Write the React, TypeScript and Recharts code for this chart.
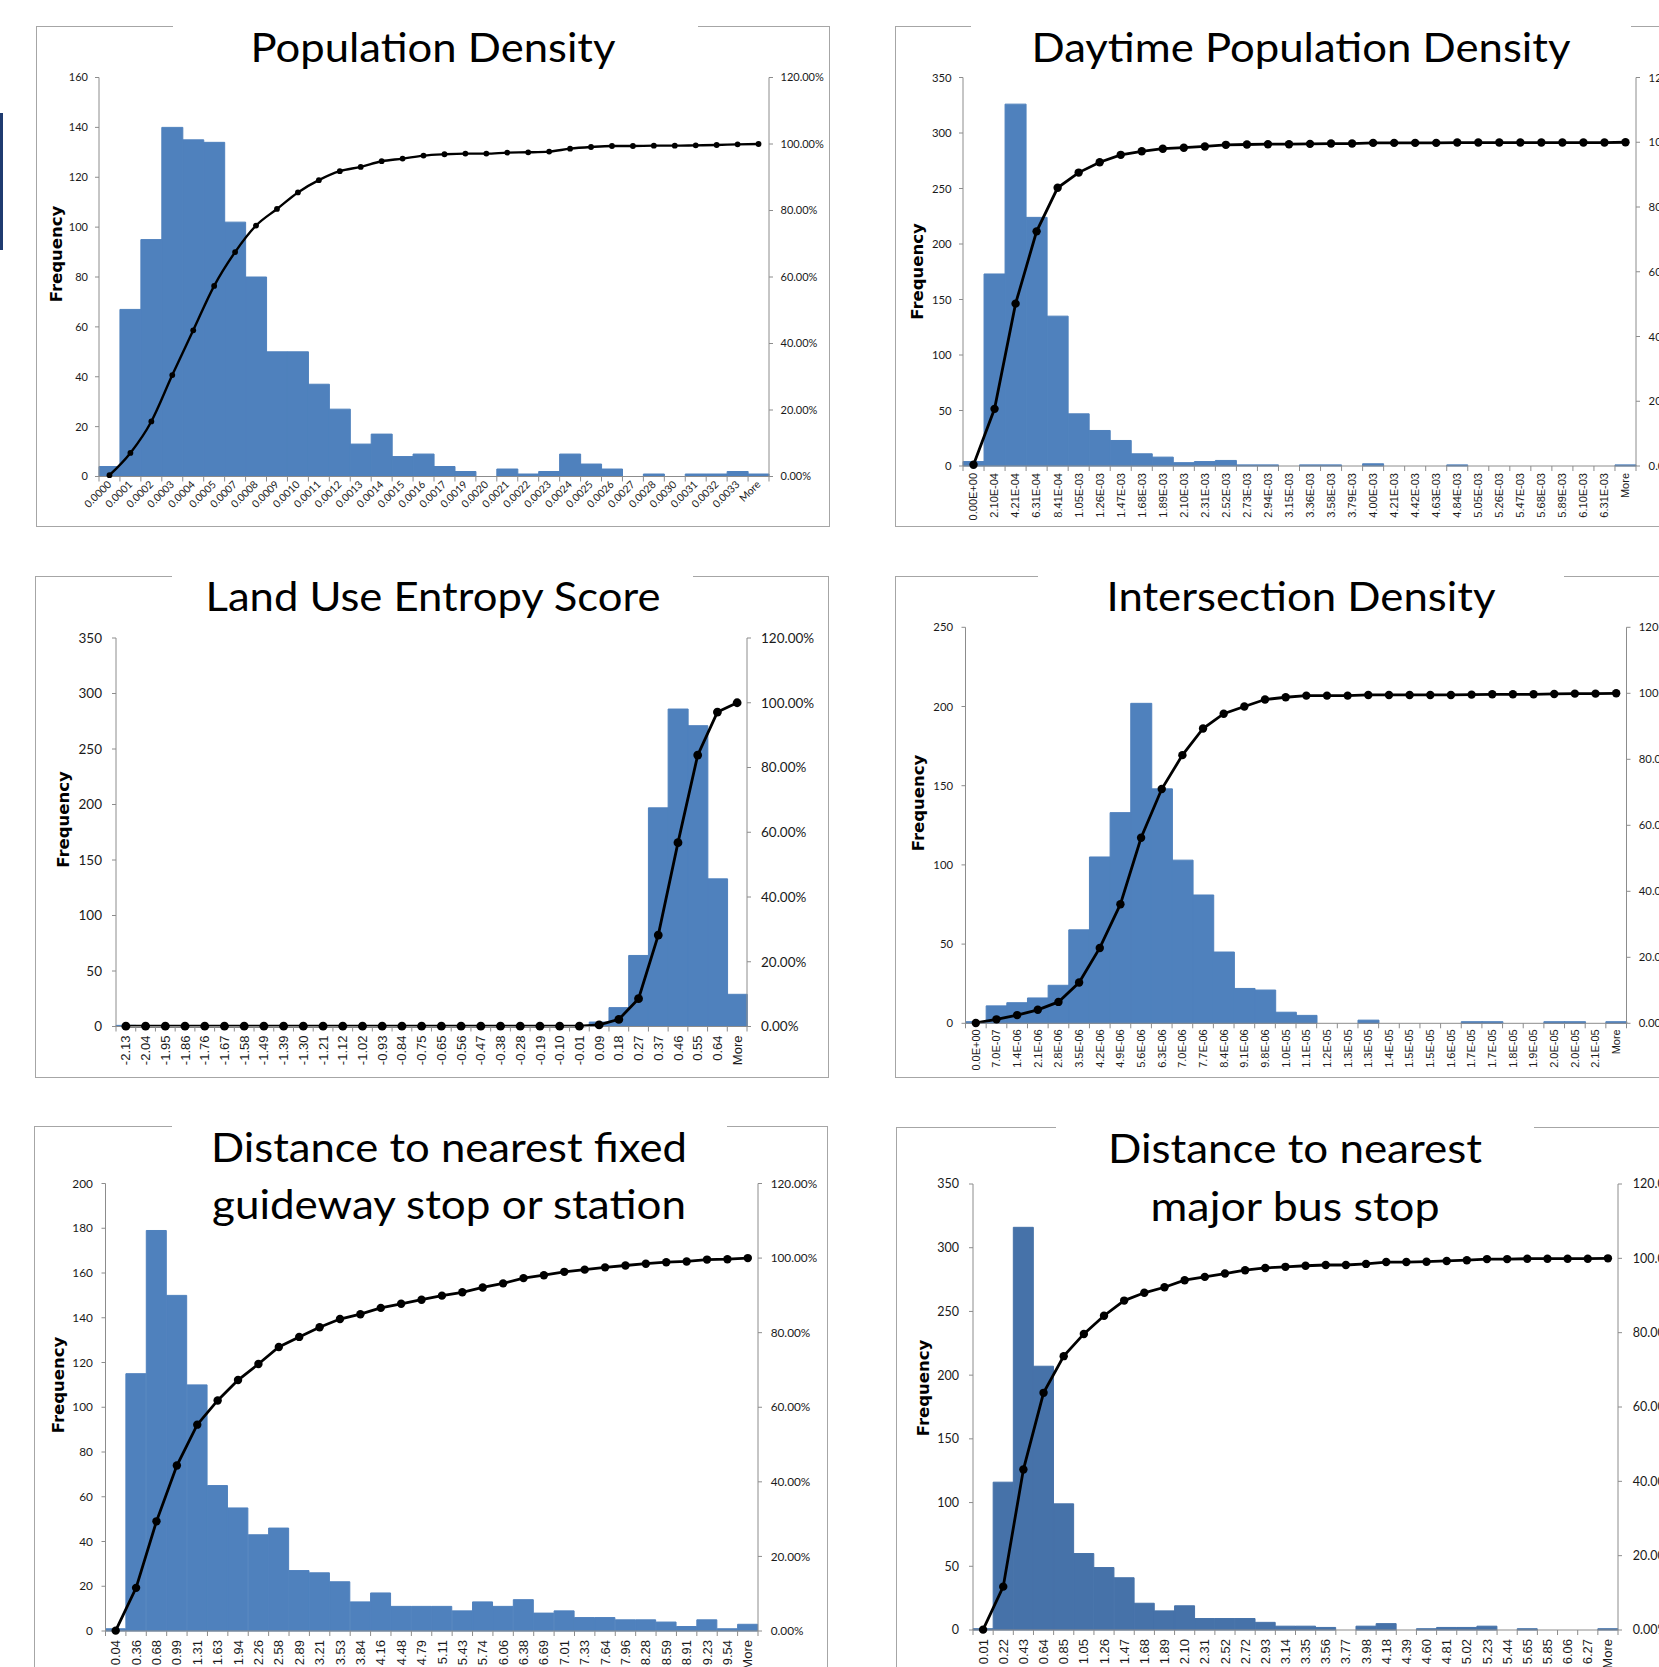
import { ComposedChart, Bar, Line, XAxis, YAxis } from 'recharts';

// ---- data ----
const popLabels = ['0.0000', '0.0001', '0.0002', '0.0003', '0.0004', '0.0005', '0.0007', '0.0008', '0.0009', '0.0010', '0.0011', '0.0012', '0.0013', '0.0014', '0.0015', '0.0016', '0.0017', '0.0019', '0.0020', '0.0021', '0.0022', '0.0023', '0.0024', '0.0025', '0.0026', '0.0027', '0.0028', '0.0030', '0.0031', '0.0032', '0.0033', 'More'];
const popCounts = [4, 67, 95, 140, 135, 134, 102, 80, 50, 50, 37, 27, 13, 17, 8, 9, 4, 2, 0, 3, 1, 2, 9, 5, 3, 0, 1, 0, 1, 1, 2, 1];
const popCumPct = [0.4, 7.08, 16.55, 30.51, 43.97, 57.33, 67.5, 75.47, 80.46, 85.44, 89.13, 91.82, 93.12, 94.82, 95.61, 96.51, 96.91, 97.11, 97.11, 97.41, 97.51, 97.71, 98.6, 99.1, 99.4, 99.4, 99.5, 99.5, 99.6, 99.7, 99.9, 100];
const popTicks = [0, 20, 40, 60, 80, 100, 120, 140, 160];

const dayLabels = ['0.00E+00', '2.10E-04', '4.21E-04', '6.31E-04', '8.41E-04', '1.05E-03', '1.26E-03', '1.47E-03', '1.68E-03', '1.89E-03', '2.10E-03', '2.31E-03', '2.52E-03', '2.73E-03', '2.94E-03', '3.15E-03', '3.36E-03', '3.58E-03', '3.79E-03', '4.00E-03', '4.21E-03', '4.42E-03', '4.63E-03', '4.84E-03', '5.05E-03', '5.26E-03', '5.47E-03', '5.68E-03', '5.89E-03', '6.10E-03', '6.31E-03', 'More'];
const dayCounts = [4, 173, 326, 224, 135, 47, 32, 23, 11, 8, 3, 4, 5, 1, 1, 0, 1, 1, 0, 2, 0, 0, 0, 1, 0, 0, 0, 0, 0, 0, 0, 1];
const dayCumPct = [0.4, 17.65, 50.15, 72.48, 85.94, 90.63, 93.82, 96.11, 97.21, 98.01, 98.31, 98.7, 99.2, 99.3, 99.4, 99.4, 99.5, 99.6, 99.6, 99.8, 99.8, 99.8, 99.8, 99.9, 99.9, 99.9, 99.9, 99.9, 99.9, 99.9, 99.9, 100];
const dayTicks = [0, 50, 100, 150, 200, 250, 300, 350];

const luLabels = ['-2.13', '-2.04', '-1.95', '-1.86', '-1.76', '-1.67', '-1.58', '-1.49', '-1.39', '-1.30', '-1.21', '-1.12', '-1.02', '-0.93', '-0.84', '-0.75', '-0.65', '-0.56', '-0.47', '-0.38', '-0.28', '-0.19', '-0.10', '-0.01', '0.09', '0.18', '0.27', '0.37', '0.46', '0.55', '0.64', 'More'];
const luCounts = [1, 0, 0, 0, 0, 0, 0, 0, 0, 0, 0, 0, 0, 0, 0, 0, 0, 0, 0, 0, 0, 0, 0, 0, 4, 17, 64, 197, 286, 271, 133, 29];
const luCumPct = [0.1, 0.1, 0.1, 0.1, 0.1, 0.1, 0.1, 0.1, 0.1, 0.1, 0.1, 0.1, 0.1, 0.1, 0.1, 0.1, 0.1, 0.1, 0.1, 0.1, 0.1, 0.1, 0.1, 0.1, 0.5, 2.2, 8.58, 28.24, 56.79, 83.83, 97.11, 100];
const luTicks = [0, 50, 100, 150, 200, 250, 300, 350];

const intLabels = ['0.0E+00', '7.0E-07', '1.4E-06', '2.1E-06', '2.8E-06', '3.5E-06', '4.2E-06', '4.9E-06', '5.6E-06', '6.3E-06', '7.0E-06', '7.7E-06', '8.4E-06', '9.1E-06', '9.8E-06', '1.0E-05', '1.1E-05', '1.2E-05', '1.3E-05', '1.3E-05', '1.4E-05', '1.5E-05', '1.5E-05', '1.6E-05', '1.7E-05', '1.7E-05', '1.8E-05', '1.9E-05', '2.0E-05', '2.0E-05', '2.1E-05', 'More'];
const intCounts = [1, 11, 13, 16, 24, 59, 105, 133, 202, 148, 103, 81, 45, 22, 21, 7, 5, 0, 0, 2, 0, 0, 0, 0, 1, 1, 0, 0, 1, 1, 0, 1];
const intCumPct = [0.1, 1.2, 2.49, 4.09, 6.48, 12.36, 22.83, 36.09, 56.23, 70.99, 81.26, 89.33, 93.82, 96.01, 98.11, 98.8, 99.3, 99.3, 99.3, 99.5, 99.5, 99.5, 99.5, 99.5, 99.6, 99.7, 99.7, 99.7, 99.8, 99.9, 99.9, 100];
const intTicks = [0, 50, 100, 150, 200, 250];

const fgLabels = ['0.04', '0.36', '0.68', '0.99', '1.31', '1.63', '1.94', '2.26', '2.58', '2.89', '3.21', '3.53', '3.84', '4.16', '4.48', '4.79', '5.11', '5.43', '5.74', '6.06', '6.38', '6.69', '7.01', '7.33', '7.64', '7.96', '8.28', '8.59', '8.91', '9.23', '9.54', 'More'];
const fgCounts = [1, 115, 179, 150, 110, 65, 55, 43, 46, 27, 26, 22, 13, 17, 11, 11, 11, 9, 13, 11, 14, 8, 9, 6, 6, 5, 5, 4, 2, 5, 1, 3];
const fgCumPct = [0.1, 11.57, 29.41, 44.37, 55.33, 61.82, 67.3, 71.59, 76.17, 78.86, 81.46, 83.65, 84.95, 86.64, 87.74, 88.83, 89.93, 90.83, 92.12, 93.22, 94.62, 95.41, 96.31, 96.91, 97.51, 98.01, 98.5, 98.9, 99.1, 99.6, 99.7, 100];
const fgTicks = [0, 20, 40, 60, 80, 100, 120, 140, 160, 180, 200];

const busLabels = ['0.01', '0.22', '0.43', '0.64', '0.85', '1.05', '1.26', '1.47', '1.68', '1.89', '2.10', '2.31', '2.52', '2.72', '2.93', '3.14', '3.35', '3.56', '3.77', '3.98', '4.18', '4.39', '4.60', '4.81', '5.02', '5.23', '5.44', '5.65', '5.85', '6.06', '6.27', 'More'];
const busCounts = [1, 116, 316, 207, 99, 60, 49, 41, 21, 15, 19, 9, 9, 9, 6, 3, 3, 2, 0, 3, 5, 0, 1, 2, 2, 3, 0, 1, 0, 0, 0, 1];
const busCumPct = [0.1, 11.67, 43.17, 63.81, 73.68, 79.66, 84.55, 88.63, 90.73, 92.22, 94.12, 95.01, 95.91, 96.81, 97.41, 97.71, 98.01, 98.21, 98.21, 98.5, 99.0, 99.0, 99.1, 99.3, 99.5, 99.8, 99.8, 99.9, 99.9, 99.9, 99.9, 100];
const busTicks = [0, 50, 100, 150, 200, 250, 300, 350];

const pctTicks = [0, 20, 40, 60, 80, 100, 120];

// ---- fonts ----
const TITLE_FONT = 'Lato, "Open Sans", sans-serif';
const NUM_FONT = 'Lato, sans-serif';
const CAT_FONT = '"Liberation Sans", Arial, sans-serif';
const FREQ_FONT = '"DejaVu Sans", Verdana, sans-serif';

const BLUE = '#4F81BD';
const AXIS = '#8C8C8C';

interface PanelCfg {
  title: string[];
  titleW: number[];
  labels: string[];
  counts: number[];
  cum: number[];
  ticks: number[];
  frame: { l: number; t: number; r: number; b: number };
  plot: { x0: number; x1: number; y0: number; y1: number };
  titleX: number;
  titleY: number[];
  gap: [number, number];
  freq: [number, number];
  numSize: number;
  leftGap: number;
  rightGap: number;
  catFont: string;
  catSize: number;
  catRot: number;
  catMargin: number;
  curve: 'monotone' | 'linear';
  lineW: number;
  dotR: number;
  color: string;
}

const panels: PanelCfg[] = [
  {
    title: ['Population Density'], titleW: [365], labels: popLabels, counts: popCounts, cum: popCumPct, ticks: popTicks,
    frame: { l: 36, t: 26, r: 830, b: 527 }, plot: { x0: 99, x1: 769, y0: 77.5, y1: 476.5 },
    titleX: 433, titleY: [61.7], gap: [173, 698], freq: [56, 254],
    numSize: 11, leftGap: 11, rightGap: 11.5,
    catFont: NUM_FONT, catSize: 10.5, catRot: -45, catMargin: 6,
    curve: 'monotone', lineW: 2.4, dotR: 2.9, color: BLUE,
  },
  {
    title: ['Daytime Population Density'], titleW: [539], labels: dayLabels, counts: dayCounts, cum: dayCumPct, ticks: dayTicks,
    frame: { l: 895, t: 26, r: 1720, b: 527 }, plot: { x0: 963, x1: 1636, y0: 77.5, y1: 466 },
    titleX: 1301, titleY: [61.7], gap: [971, 1631], freq: [917, 271.5],
    numSize: 11.3, leftGap: 11.4, rightGap: 12.6,
    catFont: CAT_FONT, catSize: 11, catRot: -90, catMargin: 7,
    curve: 'linear', lineW: 2.8, dotR: 4.2, color: BLUE,
  },
  {
    title: ['Land Use Entropy Score'], titleW: [455], labels: luLabels, counts: luCounts, cum: luCumPct, ticks: luTicks,
    frame: { l: 35, t: 576, r: 829, b: 1078 }, plot: { x0: 116, x1: 747, y0: 638, y1: 1026.5 },
    titleX: 433, titleY: [610.7], gap: [172, 693], freq: [63.5, 819.5],
    numSize: 13.5, leftGap: 14, rightGap: 14,
    catFont: CAT_FONT, catSize: 13, catRot: -90, catMargin: 9,
    curve: 'linear', lineW: 2.8, dotR: 4.4, color: BLUE,
  },
  {
    title: ['Intersection Density'], titleW: [389], labels: intLabels, counts: intCounts, cum: intCumPct, ticks: intTicks,
    frame: { l: 895, t: 576, r: 1720, b: 1078 }, plot: { x0: 965.5, x1: 1626.5, y0: 627.3, y1: 1023.3 },
    titleX: 1301, titleY: [610.7], gap: [1038, 1564], freq: [918, 803],
    numSize: 11.3, leftGap: 12.5, rightGap: 12.3,
    catFont: CAT_FONT, catSize: 11, catRot: -90, catMargin: 6,
    curve: 'linear', lineW: 2.8, dotR: 4.2, color: BLUE,
  },
  {
    title: ['Distance to nearest fixed', 'guideway stop or station'], titleW: [476, 474], labels: fgLabels, counts: fgCounts, cum: fgCumPct, ticks: fgTicks,
    frame: { l: 34, t: 1126, r: 828, b: 1720 }, plot: { x0: 105.5, x1: 758, y0: 1183.5, y1: 1631 },
    titleX: 449, titleY: [1162, 1219.4], gap: [172, 727], freq: [58, 1385],
    numSize: 11.8, leftGap: 12.6, rightGap: 12.7,
    catFont: CAT_FONT, catSize: 13, catRot: -90, catMargin: 9,
    curve: 'linear', lineW: 2.8, dotR: 4.2, color: BLUE,
  },
  {
    title: ['Distance to nearest', 'major bus stop'], titleW: [374, 289], labels: busLabels, counts: busCounts, cum: busCumPct, ticks: busTicks,
    frame: { l: 896, t: 1127, r: 1720, b: 1720 }, plot: { x0: 973, x1: 1618, y0: 1184, y1: 1630 },
    titleX: 1295, titleY: [1162.6, 1221], gap: [1056, 1534], freq: [923, 1388],
    numSize: 12.5, leftGap: 14, rightGap: 14.8,
    catFont: CAT_FONT, catSize: 13, catRot: -90, catMargin: 9,
    curve: 'linear', lineW: 2.8, dotR: 4.2, color: '#4672A9',
  },
];

function CatTick(props: any) {
  const { x, y, payload, p, bw } = props;
  const i = payload.value as number;
  const axisY = y - p.catMargin;
  const last = i === p.labels.length - 1;
  return (
    <g>
      <line x1={x - bw / 2} x2={x - bw / 2} y1={axisY} y2={axisY + 5} stroke={AXIS} />
      {last && <line x1={x + bw / 2} x2={x + bw / 2} y1={axisY} y2={axisY + 5} stroke={AXIS} />}
      <text
        transform={`translate(${x},${y}) rotate(${p.catRot})`}
        textAnchor="end"
        dy="0.35em"
        fontSize={p.catSize}
        fontFamily={p.catFont}
        fill="#1a1a1a"
      >
        {p.labels[i]}
      </text>
    </g>
  );
}

function Panel({ p }: { p: PanelCfg }) {
  const W = p.frame.r - p.frame.l;
  const H = p.frame.b - p.frame.t;
  const wL = 45;
  const wR = 55;
  const hX = 45;
  const margin = {
    top: p.plot.y0 - p.frame.t,
    left: p.plot.x0 - p.frame.l - wL,
    right: p.frame.r - p.plot.x1 - wR,
    bottom: p.frame.b - p.plot.y1 - hX,
  };
  const data = p.labels.map((_, i) => ({ i, count: p.counts[i], cum: p.cum[i] }));
  const bw = (p.plot.x1 - p.plot.x0) / p.labels.length;
  const yMax = p.ticks[p.ticks.length - 1];
  const numTick = { fill: '#1a1a1a', fontSize: p.numSize, fontFamily: NUM_FONT };

  return (
    <div style={{ position: 'absolute', left: p.frame.l, top: p.frame.t }}>
      <ComposedChart width={W} height={H} data={data} margin={margin} barCategoryGap={0} barGap={0}>
        <XAxis
          dataKey="i"
          interval={0}
          height={hX}
          stroke={AXIS}
          tickLine={false}
          tickSize={0}
          tickMargin={p.catMargin}
          tick={(tp: any) => <CatTick {...tp} p={p} bw={bw} />}
        />
        <YAxis
          yAxisId="l"
          orientation="left"
          width={wL}
          domain={[0, yMax]}
          ticks={p.ticks}
          interval={0}
          stroke={AXIS}
          tickSize={4}
          tickMargin={p.leftGap - 4}
          tick={numTick}
        />
        <YAxis
          yAxisId="r"
          orientation="right"
          width={wR}
          domain={[0, 120]}
          ticks={pctTicks}
          interval={0}
          stroke={AXIS}
          tickSize={4}
          tickMargin={p.rightGap - 4}
          tick={{ ...numTick, textAnchor: 'start' }}
          tickFormatter={(v: number) => v.toFixed(2) + '%'}
        />
        <Bar
          yAxisId="l"
          dataKey="count"
          fill={p.color}
          stroke={p.color}
          strokeWidth={1}
          isAnimationActive={false}
        />
        <Line
          yAxisId="r"
          dataKey="cum"
          type={p.curve}
          stroke="#000"
          strokeWidth={p.lineW}
          dot={{ r: p.dotR, fill: '#000', stroke: '#000', strokeWidth: 0 }}
          activeDot={false}
          isAnimationActive={false}
        />
      </ComposedChart>
    </div>
  );
}

function Decor({ p }: { p: PanelCfg }) {
  const f = p.frame;
  return (
    <g>
      <rect x={f.l + 0.5} y={f.t + 0.5} width={f.r - f.l - 1} height={f.b - f.t - 1} fill="none" stroke="#A6A6A6" />
      <rect x={p.gap[0]} y={f.t - 2} width={p.gap[1] - p.gap[0]} height={5} fill="#fff" />
      {p.title.map((line, k) => (
        <text
          key={k}
          x={p.titleX}
          y={p.titleY[k]}
          textAnchor="middle"
          fontFamily={TITLE_FONT}
          fontSize={41}
          textLength={p.titleW[k]}
          lengthAdjust="spacingAndGlyphs"
          fill="#000"
        >
          {line}
        </text>
      ))}
      <text
        transform={`translate(${p.freq[0]},${p.freq[1]}) rotate(-90)`}
        textAnchor="middle"
        dy="0.35em"
        fontFamily={FREQ_FONT}
        fontWeight="bold"
        fontSize={16.5}
        fill="#000"
      >
        Frequency
      </text>
    </g>
  );
}

export default function App() {
  return (
    <div style={{ position: 'absolute', left: 0, top: 0, width: 1659, height: 1667, overflow: 'hidden', background: '#fff' }}>
      {panels.map((p, k) => (
        <Panel key={k} p={p} />
      ))}
      <svg width={1659} height={1667} style={{ position: 'absolute', left: 0, top: 0, zIndex: 2, pointerEvents: 'none' }}>
        <rect x={0} y={113} width={3} height={137} fill="#1F3B70" />
        {panels.map((p, k) => (
          <Decor key={k} p={p} />
        ))}
      </svg>
    </div>
  );
}
